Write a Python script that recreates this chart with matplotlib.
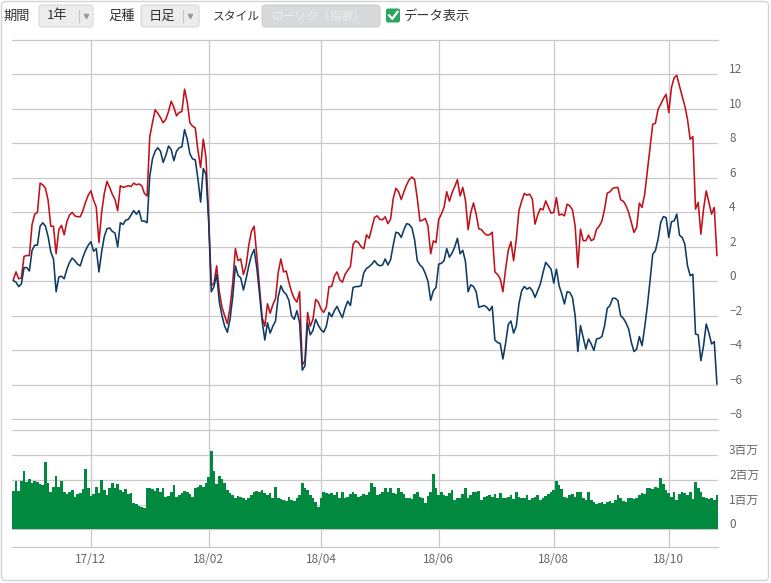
import numpy as np
import pandas as pd
import matplotlib.pyplot as plt
from matplotlib.patches import FancyBboxPatch
from matplotlib.transforms import ScaledTranslation

plt.rcParams['font.family'] = ['Noto Sans CJK JP', 'DejaVu Sans']

# daily values (1 year, 2017/10 - 2018/10)
red_line = [
    0.1, 0.55, 0.15, 0.2, 1.45, 1.5, 1.5, 3.3, 3.9, 4.0,
    5.7, 5.6, 5.4, 4.7, 3.2, 3.2, 1.6, 3.0, 3.25, 2.7,
    3.45, 3.85, 4.0, 3.8, 3.75, 3.75, 4.1, 4.6, 5.0, 5.25,
    4.7, 4.3, 2.25, 4.0, 5.1, 5.8, 5.45, 5.05, 4.75, 4.1,
    5.55, 5.45, 5.5, 5.55, 5.5, 5.7, 5.6, 5.65, 5.55, 5.1,
    4.95, 8.4, 9.2, 9.95, 9.75, 9.5, 9.2, 9.4, 9.85, 10.45,
    10.1, 9.6, 9.8, 9.85, 11.15, 10.4, 9.2, 9.0, 8.9, 7.6,
    6.6, 8.25, 7.2, 3.8, -0.25, -0.1, 0.9, -0.6, -1.5, -2.0,
    -2.45, -1.5, -0.1, 1.9, 1.2, 1.3, 0.4, 0.9, 2.1, 2.9,
    3.2, 1.5, -0.3, -2.1, -2.6, -1.3, -1.85, -1.35, -1.0, 0.5,
    1.3, 0.55, 0.6, -0.05, -0.6, -1.0, -1.2, -0.6, -4.85, -4.6,
    -1.8, -2.6, -2.2, -1.05, -1.2, -1.6, -1.8, -1.5, -0.3, -0.3,
    0.3, 0.55, 0.1, -0.05, 0.4, 0.65, 0.85, 2.15, 2.35, 2.25,
    2.0, 1.9, 2.7, 2.5, 3.1, 3.7, 3.8, 3.6, 3.57, 3.75,
    3.35, 3.6, 4.8, 5.4, 5.2, 4.75, 5.2, 5.6, 5.9, 6.05,
    5.9, 4.8, 3.5, 3.55, 3.65, 3.2, 1.6, 2.35, 2.25, 3.6,
    3.9, 4.3, 5.2, 4.65, 5.15, 5.5, 5.9, 4.95, 5.45, 4.7,
    3.0, 4.0, 4.55, 3.9, 3.05, 3.0, 2.8, 2.68, 2.7, 2.85,
    0.55, 0.4, 0.15, -0.6, 0.7, 1.8, 2.3, 1.2, 2.45, 4.1,
    4.65, 5.1, 5.0, 5.06, 4.77, 3.32, 3.84, 4.23, 4.15, 4.67,
    4.3, 3.96, 4.0, 4.86, 3.84, 3.9, 3.8, 4.48, 4.38, 4.15,
    3.22, 0.81, 3.03, 2.36, 2.36, 2.68, 2.36, 2.45, 3.03, 3.2,
    3.5, 4.19, 5.12, 5.19, 5.39, 5.44, 5.44, 4.73, 4.65, 4.4,
    4.0, 3.42, 2.84, 3.13, 4.54, 4.29, 5.06, 6.41, 7.76, 9.11,
    9.17, 9.98, 10.27, 10.6, 10.85, 9.79, 11.24, 11.81, 11.95, 11.33,
    10.75, 10.17, 9.4, 8.24, 8.4, 4.19, 4.58, 2.74, 4.19, 5.25,
    4.58, 3.9, 4.29, 1.5,
]

blue_line = [
    0.05, -0.05, -0.3, -0.15, 0.8, 0.8, 0.6, 1.8, 2.1, 2.1,
    3.2, 3.4, 3.2, 2.6, 1.7, 1.3, -0.6, 0.25, 0.3, 0.15,
    0.7, 1.1, 1.35, 1.2, 1.0, 0.9, 1.4, 1.8, 2.1, 2.3,
    1.75, 1.9, 0.55, 1.7, 2.6, 3.05, 3.1, 2.9, 2.8, 2.0,
    3.4, 3.3, 3.55, 3.6, 3.85, 4.1, 3.9, 4.1, 3.5, 3.5,
    3.4, 6.1, 7.1, 7.55, 7.75, 7.55, 6.9, 7.3, 7.85, 7.65,
    7.0, 7.55, 7.75, 7.8, 8.8, 8.25, 7.4, 7.1, 7.05, 5.95,
    4.6, 6.55, 6.2, 3.5, -0.6, -0.3, 0.4, -1.2, -2.0, -2.6,
    -2.95, -2.2, -0.9, 0.9, 0.35, 0.2, -0.5, 0.15, 0.9, 1.5,
    1.85, 0.8, -0.7, -2.3, -3.4, -2.4, -3.0, -2.6, -2.3, -0.9,
    -0.25, -0.6, -0.75, -1.1, -2.0, -2.2, -1.7, -2.4, -5.15, -4.9,
    -2.4, -3.1, -2.85, -2.2, -2.55, -2.8, -2.95, -2.6, -1.8, -2.05,
    -1.7, -1.45, -1.8, -2.1, -1.55, -1.15, -1.4, -0.35, -0.3, -0.3,
    -0.25, 0.5, 0.75, 0.85, 1.0, 1.2, 1.0, 0.9, 0.95, 1.3,
    0.95, 1.25, 2.1, 2.85, 2.8, 2.55, 3.0, 3.35, 3.3, 3.1,
    2.4, 1.2, 0.95, 0.8, 0.45, 0.0, -1.1, -0.55, -0.35, 1.0,
    1.05, 1.2, 1.9, 1.4, 1.65, 2.0, 2.5, 1.6, 1.8, 1.15,
    -0.6, -0.2, -0.3, -0.6, -1.5, -1.45, -1.4, -1.5, -1.7, -1.45,
    -3.4, -3.55, -3.6, -4.5, -3.6, -2.5, -2.3, -3.0, -2.6, -1.3,
    -0.55, -0.3, -0.45, -0.35, -0.54, -0.93, -0.54, -0.15, 0.52, 1.1,
    0.9, 0.71, -0.1, 0.71, -0.25, -0.73, -1.31, -0.6, -0.64, -0.93,
    -1.99, -4.07, -2.57, -3.24, -3.92, -3.34, -3.63, -4.0, -3.34, -3.3,
    -3.2, -2.57, -1.56, -1.41, -0.98, -0.98, -1.12, -1.99, -2.14, -2.4,
    -2.76, -3.53, -4.07, -3.92, -3.2, -3.73, -2.66, -1.41, 0.04, 1.58,
    1.78, 2.45, 3.42, 3.76, 3.7, 2.55, 3.46, 3.51, 3.9, 2.68,
    2.55, 2.16, 0.91, 0.33, 0.42, -3.05, -3.1, -4.6, -3.73, -2.47,
    -2.99, -3.63, -3.49, -5.95,
]

# volume in millions (百万)
volume = [
    1.55, 1.95, 1.55, 1.95, 2.36, 1.90, 2.03, 1.86, 1.95, 1.90,
    1.82, 1.79, 2.71, 1.86, 1.52, 1.72, 2.15, 1.72, 1.95, 1.52,
    1.41, 1.52, 1.59, 1.32, 1.41, 1.45, 1.63, 2.44, 1.66, 1.36,
    1.41, 1.72, 1.45, 1.99, 1.59, 1.39, 1.66, 1.86, 1.66, 1.82,
    1.59, 1.52, 1.63, 1.41, 1.45, 1.05, 1.01, 0.96, 0.92, 0.87,
    1.68, 1.66, 1.63, 1.55, 1.66, 1.52, 1.68, 1.32, 1.36, 1.52,
    1.79, 1.32, 1.39, 1.45, 1.55, 1.52, 1.41, 1.32, 1.66, 1.72,
    1.79, 1.72, 1.86, 2.09, 3.14, 2.33, 1.82, 2.13, 2.03, 1.86,
    1.59, 1.45, 1.39, 1.28, 1.36, 1.32, 1.25, 1.18, 1.25, 1.39,
    1.52, 1.55, 1.52, 1.59, 1.45, 1.39, 1.45, 1.25, 1.72, 1.25,
    1.22, 1.18, 1.14, 1.32, 1.18, 1.14, 1.28, 1.39, 1.86, 1.66,
    1.59, 1.39, 1.28, 1.09, 0.92, 1.25, 1.49, 1.45, 1.41, 1.45,
    1.39, 1.52, 1.25, 1.49, 1.25, 1.32, 1.41, 1.52, 1.41, 1.32,
    1.36, 1.41, 1.39, 1.52, 1.86, 1.72, 1.39, 1.41, 1.52, 1.66,
    1.52, 1.68, 1.45, 1.41, 1.68, 1.52, 1.41, 1.25, 1.28, 1.22,
    1.41, 1.49, 1.32, 1.25, 1.05, 1.36, 1.52, 2.22, 1.66, 1.39,
    1.52, 1.39, 1.36, 1.45, 1.59, 1.18, 1.25, 1.28, 1.41, 1.66,
    1.28, 1.39, 1.49, 1.52, 1.55, 1.18, 1.32, 1.36, 1.39, 1.32,
    1.41, 1.28, 1.45, 1.28, 1.25, 1.32, 1.39, 1.22, 1.49, 1.32,
    1.28, 1.25, 1.39, 1.18, 1.28, 1.32, 1.39, 1.18, 1.25, 1.36,
    1.41, 1.52, 1.59, 1.95, 1.79, 1.63, 1.32, 1.28, 1.39, 1.41,
    1.32, 1.49, 1.52, 1.25, 1.18, 1.49, 1.18, 1.12, 1.01, 1.05,
    1.09, 1.01, 1.09, 1.14, 1.05, 1.18, 1.39, 1.28, 1.14, 1.09,
    1.25, 1.28, 1.22, 1.28, 1.39, 1.45, 1.41, 1.66, 1.68, 1.63,
    1.72, 1.66, 2.06, 1.82, 1.59, 1.45, 1.32, 1.52, 1.18, 1.41,
    1.49, 1.45, 1.39, 1.52, 1.22, 1.90, 1.66, 1.49, 1.32, 1.25,
    1.22, 1.28, 1.18, 1.39,
]

tick_months = ['2017-12', '2018-02', '2018-04', '2018-06', '2018-08', '2018-10']
tick_labels = ['17/12', '18/02', '18/04', '18/06', '18/08', '18/10']
price_ticks = [-8, -6, -4, -2, 0, 2, 4, 6, 8, 10, 12]
price_labels = ['−8', '−6', '−4', '−2', '0', '2', '4', '6', '8', '10', '12']
vol_ticks = [0, 1, 2, 3]
vol_labels = ['0', '1百万', '2百万', '3百万']

dates = pd.bdate_range('2017-10-23', periods=len(red_line))
x = np.arange(len(red_line))
tick_pos = [int(np.argmax(dates >= pd.Timestamp(m + '-01'))) for m in tick_months]

grid_color = '#c9c9c9'
label_color = '#666666'

fig = plt.figure(figsize=(7.71, 5.83), dpi=100)

# toolbar + frame, drawn in pixel coordinates
top = fig.add_axes([0, 0, 1, 1])
top.set_xlim(0, 771)
top.set_ylim(583, 0)
top.axis('off')
top.add_patch(FancyBboxPatch((1.5, 1.5), 767, 579, boxstyle='round,pad=0,rounding_size=4',
                             fc='none', ec='#d4d4d4', lw=1))

top.text(4, 16.5, '期間', va='center', fontsize=9.5, color='#333333')
top.add_patch(FancyBboxPatch((39, 5), 54, 22, boxstyle='round,pad=0,rounding_size=3',
                             fc='#ececec', ec='#d8d8d8', lw=0.8))
top.text(47, 16, '1年', va='center', fontsize=9.5, color='#333333')
top.plot([79, 79], [10, 22], color='#c4c4c4', lw=0.8)
top.plot(85.5, 16, marker='v', ms=3, color='#9a9a9a')

top.text(108, 16.5, '足種', va='center', fontsize=9.5, color='#333333')
top.add_patch(FancyBboxPatch((141, 5), 58, 22, boxstyle='round,pad=0,rounding_size=3',
                             fc='#ececec', ec='#d8d8d8', lw=0.8))
top.text(149, 16, '日足', va='center', fontsize=9.5, color='#333333')
top.plot([183, 183], [10, 22], color='#c4c4c4', lw=0.8)
top.plot(189.5, 16, marker='v', ms=3, color='#9a9a9a')

top.text(213, 16.5, 'スタイル', va='center', fontsize=8.5, color='#333333')
top.add_patch(FancyBboxPatch((262, 5), 118, 22, boxstyle='round,pad=0,rounding_size=3',
                             fc='#d8d9da', ec='#d0d0d0', lw=0.8))
top.text(271, 16, 'ローソク（指数）', va='center', fontsize=8.5, color='#ededed')

top.add_patch(FancyBboxPatch((386, 8.5), 14, 14, boxstyle='round,pad=0,rounding_size=2',
                             fc='#2ba563', ec='none'))
top.plot([389, 392.3, 397.5], [15.3, 18.8, 11.8], color='white', lw=1.6)
top.text(404, 16.5, 'データ表示', va='center', fontsize=9.5, color='#333333')

# price panel
ax = fig.add_axes([12 / 771, (583 - 430) / 583, 706 / 771, 390 / 583])
ax.plot(x, red_line, color='#c0121c', lw=1.15)
ax.plot(x, blue_line, color='#0e3a64', lw=1.15)
ax.set_xlim(-0.5, 263.4)
ax.set_ylim(-8.62, 14.0)
ax.set_yticks(price_ticks)
ax.set_yticklabels(price_labels)
ax.set_xticks(tick_pos)
ax.tick_params(axis='x', length=0, labelbottom=False)
ax.tick_params(axis='y', length=0, labelleft=False, labelright=True, pad=8,
               labelsize=8.5, labelcolor=label_color)
ax.grid(True, color=grid_color, lw=0.9)
for side in ['left', 'right', 'bottom']:
    ax.spines[side].set_visible(False)
ax.spines['top'].set_color(grid_color)
ax.spines['top'].set_linewidth(0.9)

# volume panel
vax = fig.add_axes([12 / 771, (583 - 547) / 583, 706 / 771, 117 / 583])
vax.bar(x, volume, width=1.0, color='#00893f', lw=0)
vax.set_xlim(-0.5, 263.4)
vax.set_ylim(-0.71, 4.0)
vax.set_yticks(vol_ticks)
vax.set_yticklabels(vol_labels)
vax.set_xticks(tick_pos)
vax.set_xticklabels(tick_labels)
vax.set_axisbelow(True)
vax.tick_params(axis='x', length=0, pad=4, labelsize=8.5, labelcolor=label_color)
vax.tick_params(axis='y', length=0, labelleft=False, labelright=True, pad=8,
                labelsize=8.5, labelcolor=label_color)
vax.grid(True, color=grid_color, lw=0.9)
for side in ['left', 'right']:
    vax.spines[side].set_visible(False)
for side in ['top', 'bottom']:
    vax.spines[side].set_color(grid_color)
    vax.spines[side].set_linewidth(0.9)

# y labels sit a little above their grid lines
lift = ScaledTranslation(0, 0.06, fig.dpi_scale_trans)
for lab in ax.get_yticklabels() + vax.get_yticklabels():
    lab.set_transform(lab.get_transform() + lift)

fig.savefig('out.png', dpi=100)
